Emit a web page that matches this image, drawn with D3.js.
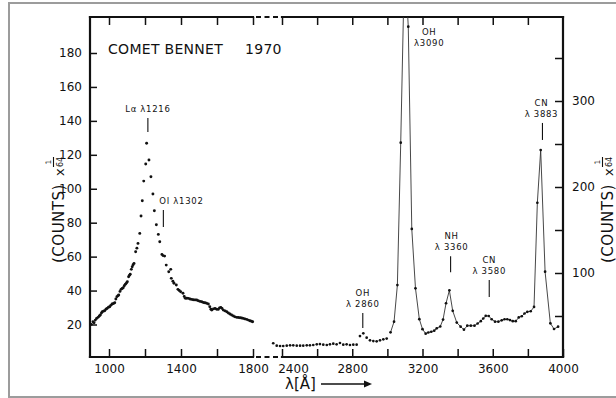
<!DOCTYPE html>
<html>
<head>
<meta charset="utf-8">
<script src="https://cdn.jsdelivr.net/npm/d3@7"></script>
<style>
  html, body { margin: 0; padding: 0; background: #fff; }
  svg { display: block; }
  text { font-family: "DejaVu Sans", "Liberation Sans", sans-serif; fill: #111; }
</style>
</head>
<body>
<svg id="chart" width="616" height="398"></svg>
<script>
// Far-ultraviolet scan (Lyman alpha region), counts / 64 on the left axis
const farWavelengths = [
  902, 911, 917, 924, 931, 939, 946, 952, 958, 963, 970, 976, 983, 989, 997,
  1004, 1010, 1017, 1025, 1032, 1038, 1044, 1050, 1054, 1061, 1067, 1073, 1079,
  1085, 1091, 1097, 1102, 1109, 1114, 1118, 1124, 1129, 1134, 1139, 1148, 1155,
  1161, 1171, 1178, 1185, 1193, 1204, 1209, 1222, 1233, 1244, 1252, 1263, 1274,
  1282, 1294, 1300, 1309, 1318, 1332, 1343, 1346, 1355, 1361, 1374, 1383, 1390,
  1398, 1411, 1418, 1424, 1432, 1441, 1450, 1459, 1468, 1478, 1487, 1496, 1506,
  1515, 1524, 1533, 1542, 1552, 1560, 1566, 1571, 1580, 1589, 1598, 1607, 1614,
  1621, 1628, 1635, 1645, 1654, 1663, 1672, 1681, 1691, 1700, 1709, 1718, 1728,
  1737, 1746, 1755, 1765, 1774, 1783, 1791, 1798
];
const farCounts = [
  20.1, 21.6, 21.0, 22.6, 23.5, 24.2, 25.0, 25.6, 26.8, 27.5, 27.9, 28.1, 29.0, 29.5, 30.2,
  30.5, 31.3, 32.1, 32.4, 32.8, 35.0, 36.4, 37.0, 37.4, 39.5, 40.7, 41.2, 41.7,
  42.8, 43.7, 44.5, 45.2, 48.1, 49.0, 49.6, 52.5, 54.0, 55.2, 56.0, 62.9, 65.0,
  67.8, 73.7, 83.9, 92.9, 104.5, 114.6, 126.8, 116.9, 107.1, 96.9, 87.0, 78.8, 73.1,
  68.8, 61.3, 60.6, 60.3, 55.0, 51.1, 52.5, 47.2, 45.5, 44.3, 43.3, 40.7, 40.0,
  39.3, 38.4, 36.5, 35.4, 35.5, 35.4, 35.0, 34.8, 34.6, 34.5, 34.4, 34.0, 33.6,
  33.4, 33.0, 32.8, 32.5, 32.1, 30.5, 29.0, 28.5, 29.2, 29.5, 29.0, 28.9, 29.8,
  30.1, 29.5, 28.5, 28.0, 27.5, 26.8, 26.2, 25.6, 25.0, 24.5, 24.2, 24.1, 24.0,
  23.8, 23.6, 23.3, 23.0, 22.6, 22.2, 21.9, 21.6
];

// Near-ultraviolet scan (OH, NH, CN bands), counts / 64 on the right axis
const nearWavelengths = [
  2350, 2370, 2389, 2407, 2427, 2446, 2464, 2484, 2503, 2521, 2541, 2559, 2578,
  2598, 2616, 2635, 2655, 2673, 2692, 2711, 2730, 2749, 2768, 2787, 2806, 2825,
  2844, 2863, 2882, 2901, 2920, 2939, 2958, 2977, 2996, 3018, 3038, 3057, 3076,
  3098, 3119, 3139, 3160, 3182, 3200, 3218, 3233, 3250, 3267, 3281, 3301, 3317,
  3334, 3353, 3372, 3395, 3417, 3436, 3455, 3475, 3496, 3514, 3532, 3546, 3560,
  3577, 3594, 3613, 3632, 3651, 3667, 3683, 3698, 3714, 3731, 3748, 3765, 3781,
  3797, 3816, 3835, 3854, 3873, 3898, 3928, 3949, 3972
];
const nearCounts = [
  18.3, 15.5, 15.1, 15.1, 15.5, 15.9, 15.9, 15.5, 15.5, 15.5, 15.9, 15.9, 16.3,
  17.1, 17.4, 16.6, 16.3, 17.1, 17.8, 17.1, 18.6, 16.6, 17.1, 16.3, 16.6, 16.6,
  26.7, 29.9, 24.8, 21.7, 20.9, 20.6, 21.7, 22.9, 23.7, 31.0, 43.4, 86.0, 251.5,
  465, 386.4, 151.2, 82.2, 46.3, 34.7, 29.5, 30.8, 31.7, 32.9, 35.7, 37.8, 45.9,
  64.8, 79.8, 56.0, 42.4, 37.6, 34.1, 38.7, 38.7, 38.7, 41.3, 44.0, 47.1, 50.2,
  50.0, 46.2, 43.4, 43.4, 45.0, 46.2, 46.2, 45.3, 44.0, 44.0, 48.3, 49.7, 52.9,
  54.9, 55.5, 60.5, 181.7, 243.0, 101.5, 41.5, 34.9, 37.6
];

// Axis ticks and labels
const farTicks = [1000, 1200, 1400, 1600, 1800];
const farTickLabels = [1000, 1400, 1800];
const nearTicks = [2400, 2600, 2800, 3000, 3200, 3400, 3600, 3800, 4000];
const nearTickLabels = [2400, 2800, 3200, 3600, 4000];
const leftTicks = [20, 40, 60, 80, 100, 120, 140, 160, 180];
const rightTicks = [50, 100, 150, 200, 250, 300, 350];
const rightTickLabels = [100, 200, 300];

// Emission-line identifications
const lineNames = ["Lα λ1216", "OI λ1302", "OH|λ 2860", "OH|λ3090", "NH|λ 3360", "CN|λ 3580", "CN|λ 3883"];
const lineWavelengths = [1216, 1302, 2860, 3090, 3360, 3580, 3883];

const title = "COMET BENNET";
const titleYear = "1970";

// ---------------------------------------------------------------------------
const svg = d3.select("#chart");
const ink = "#111";
const plot = { left: 90, right: 563, top: 17, bottom: 357 };

const xFar = d3.scaleLinear().domain([1000, 1800]).range([109, 253]);
const xNear = d3.scaleLinear().domain([2400, 4000]).range([282, 563]);
const yLeft = d3.scaleLinear().domain([20, 180]).range([324.5, 53]);
const yRight = d3.scaleLinear().domain([100, 300]).range([273, 101]);

// outer border of the figure
svg.append("rect")
  .attr("x", 9).attr("y", 3).attr("width", 640).attr("height", 394)
  .attr("fill", "none").attr("stroke", "#9c9c9c").attr("stroke-width", 2);

svg.append("defs").append("clipPath").attr("id", "plot-clip")
  .append("rect")
  .attr("x", plot.left).attr("y", plot.top)
  .attr("width", plot.right - plot.left).attr("height", plot.bottom - plot.top);

// ---- axes (inward ticks) ----
function styleAxis(g) {
  g.select(".domain").remove();
  g.selectAll(".tick line").attr("stroke", ink).attr("stroke-width", 1.5);
  g.selectAll(".tick text").attr("font-size", 12).attr("fill", ink)
    .attr("font-family", '"DejaVu Sans", sans-serif');
}

svg.append("g").attr("transform", `translate(0,${plot.bottom})`)
  .call(d3.axisBottom(xFar).tickValues(farTicks).tickSizeInner(-8).tickSizeOuter(0).tickPadding(7)
    .tickFormat(d => farTickLabels.includes(d) ? d : ""))
  .call(styleAxis);

svg.append("g").attr("transform", `translate(0,${plot.bottom})`)
  .call(d3.axisBottom(xNear).tickValues(nearTicks).tickSizeInner(-8).tickSizeOuter(0).tickPadding(7)
    .tickFormat(d => nearTickLabels.includes(d) ? d : ""))
  .call(styleAxis)
  .call(g => g.selectAll(".tick text").filter(d => d === nearTicks[0]).attr("dx", 11));

svg.append("g").attr("transform", `translate(0,${plot.top})`)
  .call(d3.axisTop(xFar).tickValues(farTicks).tickSizeInner(-8).tickSizeOuter(0).tickFormat(""))
  .call(styleAxis);

svg.append("g").attr("transform", `translate(0,${plot.top})`)
  .call(d3.axisTop(xNear).tickValues(nearTicks.slice(0, -1)).tickSizeInner(-8).tickSizeOuter(0).tickFormat(""))
  .call(styleAxis);

svg.append("g").attr("transform", `translate(${plot.left},0)`)
  .call(d3.axisLeft(yLeft).tickValues(leftTicks).tickSizeInner(-7).tickSizeOuter(0).tickPadding(8))
  .call(styleAxis);

svg.append("g").attr("transform", `translate(${plot.right},0)`)
  .call(d3.axisRight(yRight).tickValues(rightTicks).tickSizeInner(-8).tickSizeOuter(0).tickPadding(9)
    .tickFormat(d => rightTickLabels.includes(d) ? d : ""))
  .call(styleAxis);

// ---- frame with the broken wavelength axis ----
const frame = svg.append("g").attr("stroke", ink).attr("stroke-width", 2.2)
  .attr("stroke-linecap", "square").attr("fill", "none");
const farEnd = xFar(1800), nearStart = xNear(2400);
[plot.top, plot.bottom].forEach(y => {
  frame.append("line").attr("x1", plot.left).attr("x2", farEnd).attr("y1", y).attr("y2", y);
  frame.append("line").attr("x1", nearStart).attr("x2", plot.right).attr("y1", y).attr("y2", y);
  frame.append("line").attr("x1", farEnd + 3).attr("x2", nearStart - 2).attr("y1", y).attr("y2", y)
    .attr("stroke-linecap", "butt").attr("stroke-dasharray", "5,3.5");
});
frame.append("line").attr("x1", plot.left).attr("x2", plot.left).attr("y1", plot.top).attr("y2", plot.bottom);
frame.append("line").attr("x1", plot.right).attr("x2", plot.right).attr("y1", plot.top).attr("y2", plot.bottom);

// ---- data ----
const farPts = d3.zip(farWavelengths, farCounts);
const nearPts = d3.zip(nearWavelengths, nearCounts);

svg.append("g").attr("fill", ink)
  .selectAll("circle").data(farPts).join("circle")
  .attr("cx", d => xFar(d[0])).attr("cy", d => yLeft(d[1])).attr("r", 1.45);

const nearLayer = svg.append("g").attr("clip-path", "url(#plot-clip)");
const joinFrom = 3000;
nearLayer.append("path")
  .datum(nearPts.filter(d => d[0] >= joinFrom))
  .attr("fill", "none").attr("stroke", "#333").attr("stroke-width", 0.9)
  .attr("d", d3.line().x(d => xNear(d[0])).y(d => yRight(d[1])));
nearLayer.append("g").attr("fill", ink)
  .selectAll("circle").data(nearPts).join("circle")
  .attr("cx", d => xNear(d[0])).attr("cy", d => yRight(d[1])).attr("r", 1.35);

// ---- line identifications ----
// tip: axis value of the marker's lower end; len: marker length in px
const noteLayout = [
  { scale: "far",  tip: 133.4, len: 14, anchor: "middle", dx: 0 },
  { scale: "far",  tip: 77.4,  len: 17, anchor: "start",  dx: -4 },
  { scale: "near", tip: 36,    len: 15, anchor: "middle", dx: 0 },
  { scale: "near", tip: 364,   len: 0,  anchor: "middle", dx: 26 },
  { scale: "near", tip: 101,   len: 16, anchor: "middle", dx: 1 },
  { scale: "near", tip: 72,    len: 17, anchor: "middle", dx: 0 },
  { scale: "near", tip: 254.7, len: 17, anchor: "middle", dx: -1 }
];
const notes = svg.append("g");
lineNames.forEach((name, i) => {
  const lay = noteLayout[i];
  const x = lay.scale === "far" ? xFar(lineWavelengths[i]) : xNear(lineWavelengths[i]);
  const yTip = lay.scale === "far" ? yLeft(lay.tip) : yRight(lay.tip);
  if (lay.len > 0) {
    notes.append("line").attr("x1", x).attr("x2", x)
      .attr("y1", yTip - lay.len).attr("y2", yTip)
      .attr("stroke", ink).attr("stroke-width", 1.1);
  }
  const rows = name.split("|");
  const lastBase = yTip - lay.len - (lay.len > 0 ? 6 : 0);
  rows.forEach((row, r) => {
    notes.append("text")
      .attr("x", x + lay.dx)
      .attr("y", lastBase - (rows.length - 1 - r) * 10.8)
      .attr("text-anchor", lay.anchor)
      .attr("font-size", 8.5).attr("letter-spacing", 0.7)
      .text(row);
  });
});

// ---- titles ----
const t = svg.append("text").attr("x", 108).attr("y", 53.5)
  .attr("font-size", 14).attr("letter-spacing", 0.3);
t.append("tspan").text(title);
t.append("tspan").attr("x", 245).text(titleYear);

function countsLabel(cx) {
  const g = svg.append("g").attr("transform", `translate(${cx},263) rotate(-90)`);
  g.append("text").attr("x", 0).attr("y", 6).attr("font-size", 15)
    .attr("letter-spacing", 0.5).text("(COUNTS)");
  g.append("text").attr("x", 87).attr("y", 6).attr("font-size", 13).text("x");
  g.append("text").attr("x", 101).attr("y", -7).attr("font-size", 7.5)
    .attr("text-anchor", "middle").text("1");
  g.append("line").attr("x1", 96).attr("x2", 106).attr("y1", -4.5).attr("y2", -4.5)
    .attr("stroke", ink).attr("stroke-width", 1.1);
  g.append("text").attr("x", 101).attr("y", 5).attr("font-size", 8)
    .attr("text-anchor", "middle").text("64");
}
countsLabel(58);
countsLabel(607);

// wavelength label with arrow
svg.append("text").attr("x", 285).attr("y", 388.5).attr("font-size", 15).text("λ[Å]");
svg.append("line").attr("x1", 321).attr("x2", 365).attr("y1", 384).attr("y2", 384)
  .attr("stroke", ink).attr("stroke-width", 1.3);
svg.append("path").attr("d", "M364,380.5 L372,384 L364,387.5 Z").attr("fill", ink);
</script>
</body>
</html>
